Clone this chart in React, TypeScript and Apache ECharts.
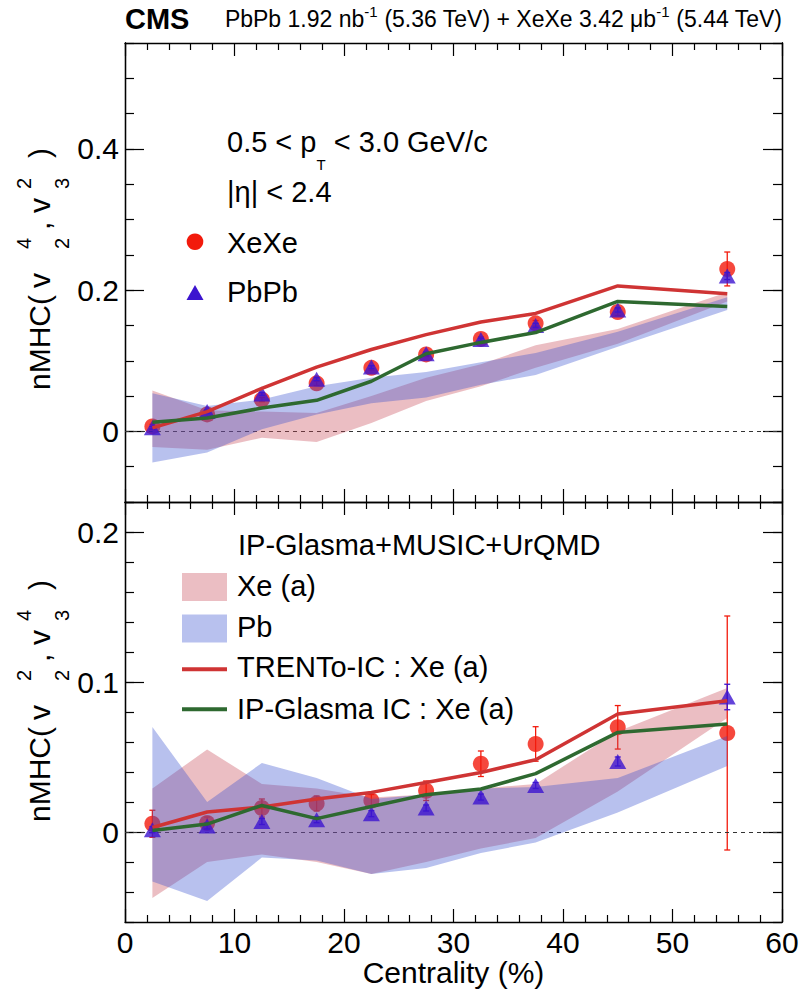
import { useEffect, useRef } from 'react';
import * as echarts from 'echarts';

const FONT = '"Liberation Sans", Arial, Helvetica, sans-serif';

// Centrality bin centres (%)
const centrality = [2.5, 7.5, 12.5, 17.5, 22.5, 27.5, 32.5, 37.5, 45, 55];

// Upper panel: nMHC(v2^4, v3^2)
const xeTop = [0.007, 0.024, 0.045, 0.068, 0.09, 0.109, 0.131, 0.153, 0.169, 0.23];
const xeTopErr = [0.003, 0.003, 0.003, 0.003, 0.003, 0.003, 0.003, 0.004, 0.005, 0.024];
const pbTop = [0.005, 0.028, 0.053, 0.074, 0.091, 0.11, 0.13, 0.15, 0.172, 0.22];
const pbTopErr = [0.002, 0.002, 0.002, 0.002, 0.002, 0.002, 0.002, 0.003, 0.003, 0.005];
const trentoTop = [0.005, 0.028, 0.061, 0.091, 0.116, 0.137, 0.155, 0.167, 0.206, 0.195];
const glasmaTop = [0.013, 0.019, 0.033, 0.044, 0.071, 0.11, 0.126, 0.14, 0.184, 0.177];
const xeBandTopLo = [-0.022, -0.026, -0.009, -0.015, 0.012, 0.043, 0.064, 0.09, 0.124, 0.184];
const xeBandTopHi = [0.058, 0.03, 0.028, 0.026, 0.05, 0.076, 0.095, 0.122, 0.145, 0.197];
const pbBandTopLo = [-0.044, -0.03, 0.003, 0.024, 0.04, 0.048, 0.066, 0.08, 0.12, 0.172];
const pbBandTopHi = [0.054, 0.036, 0.045, 0.064, 0.076, 0.084, 0.098, 0.111, 0.141, 0.19];

// Lower panel: nMHC(v2^2, v3^4)
const xeBot = [0.0055, 0.006, 0.016, 0.019, 0.021, 0.0275, 0.0455, 0.0587, 0.0698, 0.066];
const xeBotErr = [0.009, 0.004, 0.006, 0.005, 0.004, 0.0065, 0.0085, 0.0115, 0.0145, 0.078];
const pbBot = [0.0015, 0.004, 0.007, 0.0082, 0.0122, 0.016, 0.0233, 0.031, 0.047, 0.09];
const pbBotErr = [0.002, 0.002, 0.002, 0.002, 0.002, 0.002, 0.002, 0.002, 0.003, 0.0085];
const trentoBot = [0.003, 0.0133, 0.0167, 0.022, 0.0264, 0.033, 0.0397, 0.0482, 0.0787, 0.0875];
const glasmaBot = [0.001, 0.0053, 0.0177, 0.0089, 0.017, 0.0249, 0.0287, 0.0389, 0.0664, 0.072];
const xeBandBotLo = [-0.044, -0.02, -0.015, -0.02, -0.028, -0.02, -0.011, -0.004, 0.027, 0.076];
const xeBandBotHi = [0.029, 0.055, 0.032, 0.029, 0.023, 0.025, 0.029, 0.032, 0.067, 0.096];
const pbBandBotLo = [-0.033, -0.046, -0.017, -0.019, -0.028, -0.024, -0.014, -0.007, 0.013, 0.044];
const pbBandBotHi = [0.07, 0.02, 0.046, 0.036, 0.022, 0.025, 0.029, 0.03, 0.036, 0.064];

// Axis ranges and ticks
const xRange = [0, 60];
const topRange = [-0.1, 0.55];
const topMajor = [0, 0.2, 0.4];
const topMinorStep = 0.05;
const botRange = [-0.06, 0.22];
const botMajor = [0, 0.1, 0.2];
const botMinorStep = 0.02;

const XE_RED = '#f21a0c';
const PB_BLUE = '#3c14cf';
const TRENTO = '#cf3434';
const GLASMA = '#2e6930';
const XE_FILL = 'rgba(198,69,84,0.35)';
const PB_FILL = 'rgba(52,78,206,0.35)';

const tickLine = { color: '#000', width: 1.2 };
const frameLine = { color: '#000', width: 1.3 };

function xAxes(gridIndex: number, labels: boolean) {
  const base: any = {
    type: 'value', gridIndex, min: xRange[0], max: xRange[1], interval: 10,
    splitLine: { show: false }, minorSplitLine: { show: false },
    axisLine: { show: true, onZero: false, lineStyle: frameLine },
    axisTick: { show: true, inside: true, length: 13, lineStyle: tickLine },
    minorTick: { show: true, splitNumber: 5, length: 7, lineStyle: tickLine },
  };
  return [
    {
      ...base, position: 'bottom',
      axisLabel: labels
        ? { show: true, fontSize: 30, fontFamily: FONT, color: '#000', margin: 5 }
        : { show: false },
    },
    { ...base, position: 'top', axisLabel: { show: false } },
  ];
}

function yAxes(gridIndex: number, range: number[], step: number, majors: number[]) {
  const common: any = {
    type: 'value', gridIndex, min: range[0], max: range[1],
    splitLine: { show: false },
    axisLine: { show: true, onZero: false, lineStyle: frameLine },
  };
  const major = (position: string, label: boolean) => ({
    ...common, position,
    axisTick: { show: true, inside: true, length: 19, customValues: majors, lineStyle: tickLine },
    axisLabel: label
      ? { show: true, customValues: majors, fontSize: 30, fontFamily: FONT, color: '#000', margin: 6 }
      : { show: false },
  });
  const minor = (position: string) => ({
    ...common, position, interval: step,
    axisTick: { show: true, inside: true, length: 9, lineStyle: tickLine },
    axisLabel: { show: false },
  });
  return [major('left', true), minor('left'), major('right', false), minor('right')];
}

function bandSeries(xi: number, yi: number, lo: number[], hi: number[], fill: string, z: number) {
  return {
    type: 'custom', xAxisIndex: xi, yAxisIndex: yi, z, silent: true,
    data: centrality.map((c, i) => [c, lo[i], hi[i]]),
    renderItem: (params: any, api: any) => {
      if (params.dataIndexInside !== 0) return null;
      const n = params.dataInsideLength;
      const upper: number[][] = [];
      const lower: number[][] = [];
      for (let i = 0; i < n; i++) {
        upper.push(api.coord([api.value(0, i), api.value(2, i)]));
        lower.push(api.coord([api.value(0, i), api.value(1, i)]));
      }
      return {
        type: 'polygon',
        shape: { points: upper.concat(lower.reverse()) },
        style: { fill, stroke: 'none' },
      };
    },
  };
}

function errorSeries(xi: number, yi: number, vals: number[], errs: number[], color: string, z: number) {
  return {
    type: 'custom', xAxisIndex: xi, yAxisIndex: yi, z, silent: true,
    data: centrality.map((c, i) => [c, vals[i] - errs[i], vals[i] + errs[i]]),
    renderItem: (_params: any, api: any) => {
      const lo = api.coord([api.value(0), api.value(1)]);
      const hi = api.coord([api.value(0), api.value(2)]);
      const style = { stroke: color, lineWidth: 1.3 };
      const cap = 3;
      return {
        type: 'group',
        children: [
          { type: 'line', shape: { x1: lo[0], y1: lo[1], x2: hi[0], y2: hi[1] }, style },
          { type: 'line', shape: { x1: lo[0] - cap, y1: lo[1], x2: lo[0] + cap, y2: lo[1] }, style },
          { type: 'line', shape: { x1: hi[0] - cap, y1: hi[1], x2: hi[0] + cap, y2: hi[1] }, style },
        ],
      };
    },
  };
}

function pts(vals: number[]) {
  return centrality.map((c, i) => [c, vals[i]]);
}

function panelSeries(
  xi: number, yi: number,
  xe: number[], xeErr: number[], pb: number[], pbErr: number[],
  trento: number[], glasma: number[],
  xeLo: number[], xeHi: number[], pbLo: number[], pbHi: number[],
) {
  return [
    errorSeries(xi, yi, xe, xeErr, XE_RED, 2),
    {
      type: 'scatter', name: 'XeXe', xAxisIndex: xi, yAxisIndex: yi, z: 2,
      symbol: 'circle', symbolSize: 16, itemStyle: { color: XE_RED },
      data: pts(xe),
    },
    bandSeries(xi, yi, xeLo, xeHi, XE_FILL, 3),
    bandSeries(xi, yi, pbLo, pbHi, PB_FILL, 3),
    errorSeries(xi, yi, pb, pbErr, PB_BLUE, 4),
    {
      type: 'scatter', name: 'PbPb', xAxisIndex: xi, yAxisIndex: yi, z: 4,
      symbol: 'triangle', symbolSize: [17, 15], itemStyle: { color: PB_BLUE },
      data: pts(pb),
      markLine: {
        silent: true, z: 3, symbol: ['none', 'none'], label: { show: false },
        lineStyle: { type: [4, 4], color: '#333', width: 1.2 },
        data: [{ yAxis: 0 }],
      },
    },
    {
      type: 'line', name: 'TRENTo-IC : Xe (a)', xAxisIndex: xi, yAxisIndex: yi, z: 5,
      symbol: 'none', lineStyle: { color: TRENTO, width: 3.5 }, data: pts(trento),
    },
    {
      type: 'line', name: 'IP-Glasma IC : Xe (a)', xAxisIndex: xi, yAxisIndex: yi, z: 5,
      symbol: 'none', lineStyle: { color: GLASMA, width: 3.5 }, data: pts(glasma),
    },
  ];
}

function txt(text: string, x: number, y: number, size: number, extra: any = {}) {
  return {
    type: 'text', x, y,
    style: {
      text, fontSize: size, fontFamily: FONT, fill: '#000',
      align: 'left', verticalAlign: 'middle', ...extra,
    },
  };
}

// Rotated axis title "nMHC( v_a^b, v_c^d )" with stacked sub/superscripts
function yTitle(startY: number, sup1: string, sub1: string, sup2: string, sub2: string) {
  const m = -10.4;
  return {
    type: 'group', x: 50, y: startY, rotation: Math.PI / 2,
    children: [
      txt('nMHC(', 0, m, 30),
      txt('v', 102, m, 30),
      txt(sup1, 141, -26, 20),
      txt(sub1, 141, 12, 20),
      txt(',', 160, m, 30),
      txt('v', 177, m, 30),
      txt(sup2, 201, -26, 20),
      txt(sub2, 201, 12, 20),
      txt(')', 232, m, 30),
    ],
  };
}

const graphics: any[] = [
  txt('CMS', 125, 19, 29, { fontWeight: 'bold' }),
  {
    type: 'text', x: 782, y: 19,
    style: {
      text: '{m|PbPb 1.92 nb}{s|-1}{m| (5.36 TeV) + XeXe 3.42 μb}{s|-1}{m| (5.44 TeV)}',
      align: 'right', verticalAlign: 'middle', fill: '#000',
      rich: {
        m: { fontSize: 23, fontFamily: FONT, lineHeight: 30, fill: '#000' },
        s: { fontSize: 15, fontFamily: FONT, lineHeight: 15, verticalAlign: 'top', fill: '#000' },
      },
    },
  },
  yTitle(390, '4', '2', '2', '3'),
  yTitle(822, '2', '2', '4', '3'),
  txt('Centrality (%)', 453.5, 972, 30, { align: 'center' }),
  // Upper panel annotations
  {
    type: 'text', x: 227, y: 142,
    style: {
      text: '{m|0.5 < p}{t|T}{m| < 3.0 GeV/c}',
      align: 'left', verticalAlign: 'middle', fill: '#000',
      rich: {
        m: { fontSize: 29, fontFamily: FONT, lineHeight: 60, fill: '#000' },
        t: { fontSize: 15, fontFamily: FONT, lineHeight: 18, verticalAlign: 'bottom', fill: '#000' },
      },
    },
  },
  txt('|η| < 2.4', 227, 191.5, 29),
  { type: 'circle', shape: { cx: 195, cy: 241.7, r: 8.3 }, style: { fill: XE_RED } },
  txt('XeXe', 227, 242.5, 29),
  {
    type: 'polygon',
    shape: { points: [[186.5, 300], [203.5, 300], [195, 285]] },
    style: { fill: PB_BLUE },
  },
  txt('PbPb', 227, 291.5, 29),
  // Lower panel legend
  txt('IP-Glasma+MUSIC+UrQMD', 238, 545, 29),
  { type: 'rect', shape: { x: 182, y: 573, width: 45, height: 28 }, style: { fill: XE_FILL } },
  txt('Xe (a)', 237, 585.6, 29),
  { type: 'rect', shape: { x: 182, y: 614.5, width: 45, height: 28 }, style: { fill: PB_FILL } },
  txt('Pb', 237, 627, 29),
  {
    type: 'line', shape: { x1: 182, y1: 669.3, x2: 227, y2: 669.3 },
    style: { stroke: TRENTO, lineWidth: 4 },
  },
  txt('TRENTo-IC : Xe (a)', 237, 667.3, 29),
  {
    type: 'line', shape: { x1: 182, y1: 709.3, x2: 227, y2: 709.3 },
    style: { stroke: GLASMA, lineWidth: 4 },
  },
  txt('IP-Glasma IC : Xe (a)', 237, 709, 29),
];

const option: any = {
  animation: false,
  backgroundColor: '#fff',
  grid: [
    { left: 125, top: 43, width: 657, height: 459 },
    { left: 125, top: 502, width: 657, height: 420 },
  ],
  xAxis: [...xAxes(0, false), ...xAxes(1, true)],
  yAxis: [
    ...yAxes(0, topRange, topMinorStep, topMajor),
    ...yAxes(1, botRange, botMinorStep, botMajor),
  ],
  series: [
    ...panelSeries(0, 0, xeTop, xeTopErr, pbTop, pbTopErr, trentoTop, glasmaTop,
      xeBandTopLo, xeBandTopHi, pbBandTopLo, pbBandTopHi),
    ...panelSeries(2, 4, xeBot, xeBotErr, pbBot, pbBotErr, trentoBot, glasmaBot,
      xeBandBotLo, xeBandBotHi, pbBandBotLo, pbBandBotHi),
  ],
  graphic: graphics,
};

export default function App() {
  const ref = useRef<HTMLDivElement>(null);
  useEffect(() => {
    const chart = echarts.init(ref.current!, null, { renderer: 'svg' });
    chart.setOption(option);
    return () => chart.dispose();
  }, []);
  return (
    <div
      ref={ref}
      style={{ position: 'absolute', left: 0, top: 0, width: 803, height: 995, background: '#fff' }}
    />
  );
}
